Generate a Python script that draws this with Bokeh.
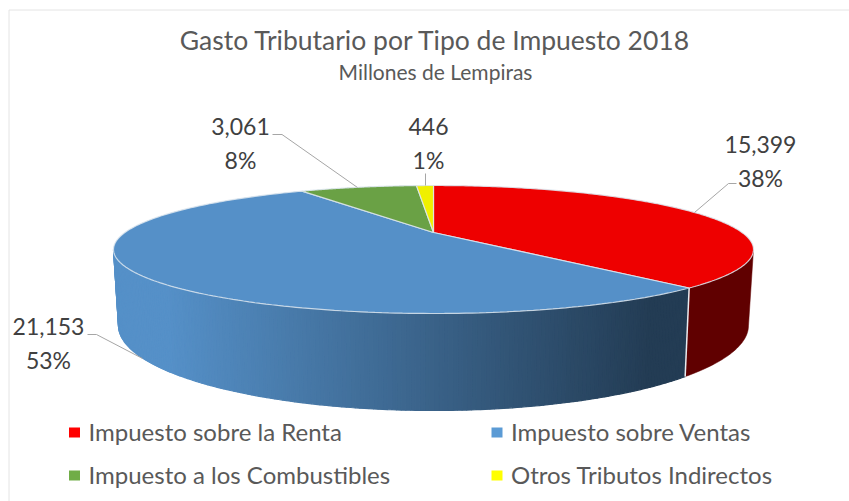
import numpy as np
from bokeh.plotting import figure
from bokeh.models import Range1d
from bokeh.core.properties import value
from bokeh.embed import file_html
from bokeh.resources import INLINE

categories = ["Impuesto sobre la Renta", "Impuesto sobre Ventas", "Impuesto a los Combustibles", "Otros Tributos Indirectos"]
values = [15399, 21153, 3061, 446]
value_labels = ["15,399", "21,153", "3,061", "446"]
pct_labels = ["38%", "53%", "8%", "1%"]
top_colors = ["#EE0000", "#5590C8", "#6AA145", "#F0F000"]
legend_colors = ["#FF0000", "#5B9BD5", "#70AD47", "#FFFF00"]
title = "Gasto Tributario por Tipo de Impuesto 2018"
subtitle = "Millones de Lempiras"

FONT = "Lato"
W, H = 849, 501
p = figure(width=W, height=H, output_backend="svg", toolbar_location=None,
           x_range=Range1d(0, W), y_range=Range1d(H, 0),
           min_border=0, outline_line_color=None, background_fill_color="white")
p.axis.visible = False
p.grid.visible = False

# pie geometry (perspective projection of a circle)
CX, CY, A, B = 433.0, 249.0, 320.0, 64.0
BCX, BCY, BA, BB = 433.0, 325.0, 315.0, 85.0
APEX_Y = 232.0
c = (CY - APEX_Y) / B
k = np.sqrt(1 - c * c)

def unit(theta):
    x, y = np.cos(theta), np.sin(theta)
    d = 1 + c * y
    return x * k / d, (y + c) / d

def top(u, v):
    return CX + A * u, CY - B * v

def bottom(u, v):
    return BCX + BA * u, BCY - BB * v

fractions = np.array(values, dtype=float) / sum(values)
edges = np.pi / 2 - 2 * np.pi * np.concatenate([[0], np.cumsum(fractions)])

# frame
p.line([8.5, 8.5], [501, 9.5], line_color="#E4E4E4", line_width=1)
p.line([8.5, 849], [9.5, 9.5], line_color="#E4E4E4", line_width=1)

# side walls: visible where the rim runs along the front half
blue_start = edges[1]
ts = np.linspace(blue_start, -np.pi + np.arcsin(c), 180)

def shade(x):
    f = np.clip((x - 165.0) / (650.0 - 165.0), 0, 1)
    a = np.array([0x55, 0x90, 0xC8]); b = np.array([0x23, 0x3C, 0x54])
    col = a + (b - a) * f
    return "#%02X%02X%02X" % tuple(int(round(v)) for v in col)

xs, ys, cols = [], [], []
for t0, t1 in zip(ts[:-1], ts[1:]):
    u0, v0 = unit(t0); u1, v1 = unit(t1)
    x0, y0 = top(u0, v0); x1, y1 = top(u1, v1)
    x2, y2 = bottom(u1, v1); x3, y3 = bottom(u0, v0)
    xs.append([x0, x1, x2, x3]); ys.append([y0, y1, y2, y3])
    cols.append(shade((x0 + x1) / 2))
p.patches(xs, ys, fill_color=cols, line_color=cols, line_width=1.2)

tr = np.linspace(-np.arcsin(c), blue_start, 50)
u, v = unit(tr)
tx, ty = top(u, v)
bx, by = bottom(u, v)
p.patch(np.r_[tx, bx[::-1]], np.r_[ty, by[::-1]], fill_color="#600000", line_color="#600000", line_width=0.5)

# white seam between walls
u, v = unit(np.array([blue_start]))
x0, y0 = top(u, v); x1, y1 = bottom(u, v)
p.line([x0[0], x1[0]], [y0[0], y1[0]], line_color="#E8EDF2", line_width=1.5)

# top slices
for i in range(4):
    th = np.linspace(edges[i], edges[i + 1], 200)
    u, v = unit(th)
    x, y = top(u, v)
    p.patch(np.r_[CX, x], np.r_[APEX_Y, y], fill_color=top_colors[i], line_color="#DDE6EE", line_width=1.2, line_alpha=0.85)

# leader lines
leaders = [([694, 728, 736], [212, 183, 183]),
           ([142, 96, 87], [358, 334, 334]),
           ([357, 281.5, 272], [187, 134, 134]),
           ([425, 425], [185, 173])]
for lx, ly in leaders:
    p.line(lx, ly, line_color="#A6A6A6", line_width=1)

# data labels
label_pos = [(760, 144), (48, 326), (240, 126), (428, 126)]
for (lx, ly), a, b in zip(label_pos, value_labels, pct_labels):
    for txt, yy in ((a, ly), (b, ly + 33)):
        p.text([lx], [yy], text=[txt], text_font=value(FONT), text_font_size="23px", text_color="#404040",
               text_align="center", text_baseline="middle")

# titles
p.text([435], [39], text=[title], text_font=value(FONT), text_font_size="26.5px", text_color="#595959",
       text_align="center", text_baseline="middle")
p.text([435], [71], text=[subtitle], text_font=value(FONT), text_font_size="21px", text_color="#595959",
       text_align="center", text_baseline="middle")

# legend
legend_pos = [(74, 432), (496.5, 432), (74, 475), (496.5, 475)]
for (lx, ly), name, col in zip(legend_pos, categories, legend_colors):
    p.rect([lx], [ly], width=11, height=10, fill_color=col, line_color=None)
    p.text([lx + 14], [ly - 1], text=[name], text_font=value(FONT), text_font_size="24px", text_color="#595959",
           text_align="left", text_baseline="middle")

open("out.html", "w").write(file_html(p, INLINE))
